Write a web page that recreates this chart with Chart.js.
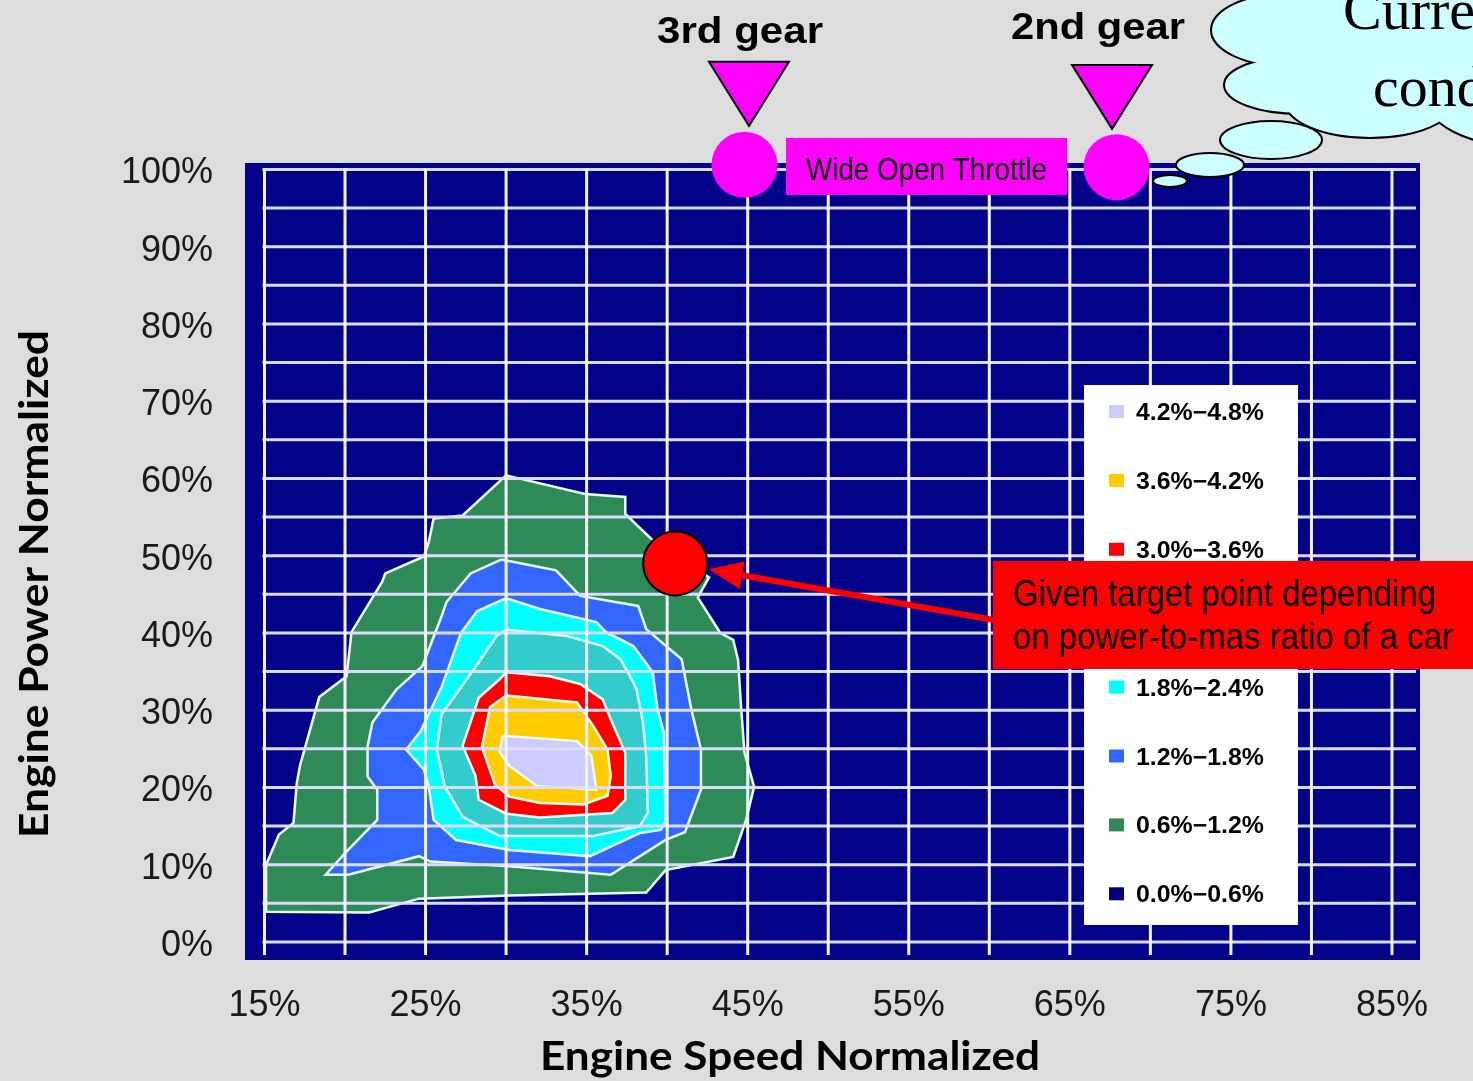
<!DOCTYPE html>
<html>
<head>
<meta charset="utf-8">
<script src="https://cdn.jsdelivr.net/npm/chart.js@4.4.1/dist/chart.umd.min.js"></script>
<style>
  html, body { margin: 0; padding: 0; background: #dddddd; }
  canvas { display: block; }
</style>
</head>
<body>
<canvas id="map" width="1473" height="1081"></canvas>
<script>
// axis ticks (percent of normalized speed / power)
const xTickLabels = [15, 25, 35, 45, 55, 65, 75, 85];
const yTickLabels = [0, 10, 20, 30, 40, 50, 60, 70, 80, 90, 100];
const xGridLines = [15, 20, 25, 30, 35, 40, 45, 50, 55, 60, 65, 70, 75, 80, 85];
const yGridLines = [0, 5, 10, 15, 20, 25, 30, 35, 40, 45, 50, 55, 60, 65, 70, 75, 80, 85, 90, 95, 100];

// legend, top to bottom
const bandLabels = ["4.2%\u22124.8%", "3.6%\u22124.2%", "3.0%\u22123.6%", "2.4%\u22123.0%",
                    "1.8%\u22122.4%", "1.2%\u22121.8%", "0.6%\u22121.2%", "0.0%\u22120.6%"];
const bandColors = ["#ccccff", "#ffcc00", "#ff0000", "#33cccc", "#00ffff", "#3366ff", "#2e8b57", "#000080"];

// contour outlines [speed %, power %]
const band06 = [[30.0,60.4],[34.9,58.0],[37.4,57.6],[37.4,55.4],[39.0,52.2],[42.6,47.2],[41.9,44.6],[43.3,40.0],
  [44.1,39.1],[44.4,36.5],[44.6,30.1],[44.8,24.5],[45.4,20.1],[44.9,15.8],[44.1,11.0],[39.9,9.3],[38.7,6.4],
  [30.2,6.0],[24.6,5.6],[21.5,3.8],[15.1,3.9],[15.1,10.0],[15.9,13.9],[16.8,15.4],[17.0,20.5],[17.2,22.8],
  [18.4,31.7],[20.1,34.4],[20.4,40.1],[22.3,46.6],[22.5,47.7],[24.9,49.9],[25.2,51.8],[25.5,54.8],[27.3,55.2],[30.0,60.4]];
const band12 = [[29.7,49.5],[33.1,48.1],[34.6,44.8],[38.2,43.5],[38.7,40.5],[40.9,36.6],[41.5,30.1],[42.1,24.9],
  [42.1,19.7],[41.1,14.2],[39.9,13.2],[36.5,8.7],[30.2,9.8],[25.3,10.4],[24.6,11.1],[20.2,8.7],[18.8,8.7],
  [20.0,11.5],[22.0,15.8],[22.0,19.7],[21.4,21.4],[21.4,25.3],[21.7,28.4],[23.2,32.7],[24.8,35.7],[26.0,42.2],
  [26.3,44.0],[27.8,47.7],[29.7,49.5]];
const band18 = [[30.0,44.5],[32.1,43.1],[35.6,41.4],[36.2,40.1],[37.9,38.3],[39.1,34.9],[39.4,30.1],[39.8,27.1],
  [39.9,15.5],[39.6,14.5],[38.3,14.1],[35.2,11.1],[30.2,11.9],[26.9,13.2],[25.5,15.8],[25.2,20.1],[24.9,22.3],
  [23.8,24.9],[24.7,27.3],[26.0,33.0],[27.2,40.0],[28.2,42.8],[30.0,44.5]];
const band24 = [[30.0,40.4],[33.8,39.6],[36.0,38.3],[37.1,36.6],[37.8,34.0],[38.1,32.7],[38.5,28.4],[38.7,24.0],
  [38.8,16.7],[38.3,15.0],[35.4,13.7],[29.6,13.7],[28.5,14.9],[27.3,16.2],[26.2,20.1],[25.7,24.9],[26.0,29.5],
  [26.7,31.5],[28.3,36.2],[29.4,39.6],[30.0,40.4]];
const band30 = [[30.0,34.9],[32.7,34.4],[34.6,33.4],[36.0,31.4],[36.5,28.8],[37.4,24.5],[37.4,18.4],[36.6,16.7],
  [32.1,16.1],[30.0,16.6],[28.3,18.4],[28.1,21.5],[27.3,25.4],[28.3,31.6],[29.6,34.0],[30.0,34.9]];
const band36 = [[30.0,31.9],[34.4,31.0],[35.4,28.0],[36.3,24.9],[36.5,21.5],[36.3,18.9],[34.8,17.8],[32.1,18.0],
  [30.2,18.8],[29.3,20.4],[28.5,25.2],[29.0,30.4],[30.0,31.9]];
const band42 = [[29.8,26.7],[34.4,26.0],[35.3,24.1],[35.6,19.7],[31.9,20.2],[30.2,22.8],[29.6,24.6],[29.8,26.7]];

// annotations
const targetPoint = [[40.5, 49.0]];
const wotPoints = [[44.8, 100.6], [67.9, 100.3]];
const gearMarkers = [[45.08, 109.8], [67.62, 109.4]];
const gearNames = ["3rd gear", "2nd gear"];

function toPoints(arr) {
    return arr.map(p => ({ x: p[0], y: p[1] }));
}

function fitText(ctx, text, x, y, width, font, color, align) {
    ctx.save();
    ctx.font = font;
    ctx.fillStyle = color;
    ctx.textBaseline = "alphabetic";
    ctx.textAlign = "left";
    var w = ctx.measureText(text).width;
    ctx.translate(x, y);
    ctx.scale(width / w, 1);
    ctx.fillText(text, align === "center" ? -w / 2 : 0, 0);
    ctx.restore();
}

function drawCloud(ctx) {
    var lobes = [[1290, 30, 78, 36], [1300, 85, 75, 28], [1370, 100, 85, 37], [1520, 95, 95, 50],
                 [1420, 40, 150, 70], [1360, 10, 100, 40]];
    ctx.save();
    ctx.strokeStyle = "#000";
    ctx.lineWidth = 4;
    lobes.forEach(e => { ctx.beginPath(); ctx.ellipse(e[0], e[1], e[2], e[3], 0, 0, 2 * Math.PI); ctx.stroke(); });
    ctx.fillStyle = "#ccffff";
    lobes.forEach(e => { ctx.beginPath(); ctx.ellipse(e[0], e[1], e[2], e[3], 0, 0, 2 * Math.PI); ctx.fill(); });

    var bubbles = [[1271, 140, 51, 19], [1210, 165, 34, 12], [1170, 181, 17, 6]];
    ctx.lineWidth = 2;
    bubbles.forEach(e => {
        ctx.beginPath();
        ctx.ellipse(e[0], e[1], e[2], e[3], 0, 0, 2 * Math.PI);
        ctx.fill();
        ctx.stroke();
    });
    ctx.fillStyle = "#000";
    ctx.font = '58px "Liberation Serif", serif';
    ctx.fillText("Current", 1343, 29);
    ctx.fillText("conditions", 1373, 106);
    ctx.restore();
}

const plotPlugin = {
    id: "plotPlugin",
    beforeDraw(chart) {
        var ctx = chart.ctx, a = chart.chartArea;
        ctx.save();
        ctx.fillStyle = "#dddddd";
        ctx.fillRect(0, 0, chart.width, chart.height);
        ctx.fillStyle = "#03038a";
        ctx.fillRect(a.left, a.top, a.right - a.left, a.bottom - a.top);
        ctx.restore();
    },
    afterDatasetDraw(chart, args) {
        // white grid goes over the contours but under the markers
        if (chart.data.datasets[args.index].label !== bandLabels[0]) return;
        var ctx = chart.ctx, a = chart.chartArea;
        var xs = chart.scales.x, ys = chart.scales.y;
        ctx.save();
        ctx.lineWidth = 3;
        ctx.strokeStyle = "#dcdcff";
        yGridLines.forEach(v => {
            var py = ys.getPixelForValue(v);
            ctx.beginPath();
            ctx.moveTo(xs.getPixelForValue(15) - 2, py);
            ctx.lineTo(a.right - 4, py);
            ctx.stroke();
        });
        ctx.strokeStyle = "#f4f4ff";
        xGridLines.forEach(v => {
            var px = xs.getPixelForValue(v);
            ctx.beginPath();
            ctx.moveTo(px, ys.getPixelForValue(100) - 1);
            ctx.lineTo(px, a.bottom - 5);
            ctx.stroke();
        });
        ctx.restore();
    },
    afterDatasetsDraw(chart) {
        // gear markers sit above the plot, outside the chart area
        var ctx = chart.ctx;
        var xs = chart.scales.x, ys = chart.scales.y;
        ctx.save();
        ctx.fillStyle = "#ff00ff";
        ctx.strokeStyle = "#000";
        ctx.lineWidth = 2;
        gearMarkers.forEach(p => {
            var cx = xs.getPixelForValue(p[0]), cy = ys.getPixelForValue(p[1]);
            ctx.beginPath();
            ctx.moveTo(cx - 40, cy - 32);
            ctx.lineTo(cx + 40, cy - 32);
            ctx.lineTo(cx, cy + 32);
            ctx.closePath();
            ctx.fill();
            ctx.stroke();
        });
        ctx.restore();
    },
    afterDraw(chart) {
        var ctx = chart.ctx;
        var xs = chart.scales.x, ys = chart.scales.y;

        // legend box
        ctx.save();
        ctx.fillStyle = "#ffffff";
        ctx.fillRect(1084, 385, 214, 540);
        bandLabels.forEach((lab, i) => {
            var cy = 412 + i * 68.9;
            ctx.fillStyle = bandColors[i];
            ctx.fillRect(1109, cy - 7, 15, 13);
            fitText(ctx, lab, 1136, cy + 8, 128, 'bold 23px "Liberation Sans", Arial, sans-serif', "#000");
        });
        ctx.restore();

        // red callout and arrow to the target point
        var tx = xs.getPixelForValue(targetPoint[0][0]);
        var ty = ys.getPixelForValue(targetPoint[0][1]);
        ctx.save();
        ctx.fillStyle = "#ff0000";
        ctx.fillRect(993, 561, 480, 108);
        fitText(ctx, "Given target point depending", 1013, 606, 423, '36px "Liberation Sans", Arial, sans-serif', "#000");
        fitText(ctx, "on power-to-mas ratio of a car", 1013, 649, 440, '36px "Liberation Sans", Arial, sans-serif', "#000");

        var sx = 994, sy = 620;
        var ang = Math.atan2(ty - sy, tx - sx);
        var tipX = tx - Math.cos(ang) * 34, tipY = ty - Math.sin(ang) * 34;
        var headL = 34, headW = 14;
        var bx = tipX - Math.cos(ang) * headL, by = tipY - Math.sin(ang) * headL;
        ctx.strokeStyle = "#ff0000";
        ctx.lineWidth = 6;
        ctx.beginPath();
        ctx.moveTo(sx, sy);
        ctx.lineTo(bx, by);
        ctx.stroke();
        ctx.beginPath();
        ctx.moveTo(tipX, tipY);
        ctx.lineTo(bx + Math.sin(ang) * headW, by - Math.cos(ang) * headW);
        ctx.lineTo(bx - Math.sin(ang) * headW, by + Math.cos(ang) * headW);
        ctx.closePath();
        ctx.fill();
        ctx.restore();

        // wide open throttle label and gear names
        ctx.save();
        ctx.fillStyle = "#ff00ff";
        ctx.fillRect(786, 138, 281, 57);
        ctx.restore();
        fitText(ctx, "Wide Open Throttle", 806, 180, 241, '32px "Liberation Sans", Arial, sans-serif', "#000");
        fitText(ctx, gearNames[0], 657, 43, 166, 'bold 37px "Liberation Sans", Arial, sans-serif', "#000");
        fitText(ctx, gearNames[1], 1011, 39, 174, 'bold 37px "Liberation Sans", Arial, sans-serif', "#000");

        drawCloud(ctx);

        // axis titles
        fitText(ctx, "Engine Speed Normalized", 790, 1070, 500, 'bold 40px Lato, "Open Sans", sans-serif', "#000", "center");
        ctx.save();
        ctx.translate(48, 584);
        ctx.rotate(-Math.PI / 2);
        fitText(ctx, "Engine Power Normalized", 0, 0, 508, 'bold 40px Lato, "Open Sans", sans-serif', "#000", "center");
        ctx.restore();
    }
};

var bandSets = [
    [band06, 6], [band12, 5], [band18, 4], [band24, 3], [band30, 2], [band36, 1], [band42, 0]
].map(function (b, k) {
    return {
        label: bandLabels[b[1]],
        data: toPoints(b[0]),
        showLine: true,
        fill: "shape",
        backgroundColor: bandColors[b[1]],
        borderColor: "#e8fff0",
        borderWidth: 2.5,
        pointRadius: 0,
        tension: 0,
        order: 16 - k
    };
});

var markerSets = [
    {
        label: "target",
        data: toPoints(targetPoint),
        pointRadius: 32,
        pointBackgroundColor: "#ff0000",
        pointBorderColor: "#000",
        pointBorderWidth: 2,
        order: 0,
        clip: false
    },
    {
        label: "wot",
        data: toPoints(wotPoints),
        pointRadius: 33,
        pointBackgroundColor: "#ff00ff",
        pointBorderColor: "#ff00ff",
        pointBorderWidth: 0,
        order: 1,
        clip: false
    }
];

var tickFont = { family: '"Liberation Sans", Arial, sans-serif', size: 36 };

new Chart(document.getElementById("map"), {
    type: "scatter",
    data: { datasets: bandSets.concat(markerSets) },
    options: {
        responsive: false,
        animation: false,
        events: [],
        devicePixelRatio: 1,
        layout: { padding: { top: 163, right: 53, bottom: 0, left: 0 } },
        plugins: { legend: { display: false }, tooltip: { enabled: false } },
        scales: {
            x: {
                type: "linear",
                min: 13.79,
                max: 86.74,
                grid: { display: false },
                border: { display: false },
                afterBuildTicks: function (s) { s.ticks = xGridLines.map(v => ({ value: v })); },
                afterFit: function (s) { s.height = 121; },
                ticks: {
                    autoSkip: false,
                    maxRotation: 0,
                    padding: 16,
                    color: "#1a1a1a",
                    font: tickFont,
                    callback: v => xTickLabels.includes(v) ? v + "%" : ""
                }
            },
            y: {
                type: "linear",
                min: -2.34,
                max: 100.84,
                grid: { display: false },
                border: { display: false },
                afterBuildTicks: function (s) { s.ticks = yGridLines.map(v => ({ value: v })); },
                afterFit: function (s) { s.width = 245; },
                ticks: {
                    autoSkip: false,
                    padding: 24,
                    labelOffset: 4,
                    color: "#1a1a1a",
                    font: tickFont,
                    callback: v => yTickLabels.includes(v) ? v + "%" : ""
                }
            }
        }
    },
    plugins: [plotPlugin]
});
</script>
</body>
</html>
